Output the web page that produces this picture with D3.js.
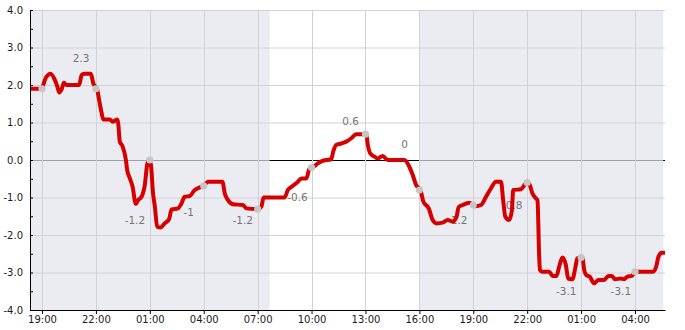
<!DOCTYPE html>
<html>
<head>
<meta charset="utf-8">
<script src="https://cdn.jsdelivr.net/npm/d3@7"></script>
<style>
  body { margin: 0; background: #fff; }
  svg { display: block; font-family: "DejaVu Sans", sans-serif; }
</style>
</head>
<body>
<svg id="chart" width="685" height="330"></svg>
<script>
// hours after 19:00 on the first day
const hours = [-0.67, 0, 0.07, 0.22, 0.48, 0.72, 0.86, 0.96, 1.09, 1.22, 1.37, 2.07, 2.21, 2.39, 2.72, 2.85,
  3.07, 3.18, 3.32, 3.41, 3.78, 3.93, 4.18, 4.24, 4.33, 4.48, 4.67, 4.74, 4.89, 5.04, 5.22, 5.35, 5.54,
  5.72, 5.85, 5.96, 6.06, 6.18, 6.28, 6.41, 6.59, 6.83, 7.07, 7.21, 7.57, 7.76, 7.94, 8.22, 8.5, 8.78,
  9.0, 9.24, 10.04, 10.17, 10.35, 10.63, 11.18, 11.37, 12.02, 12.21, 12.33, 13.5, 13.68, 13.96, 14.24,
  14.43, 14.71, 14.89, 15.11, 15.35, 15.63, 16.09, 16.22, 16.37, 16.65, 16.93, 17.21, 17.48, 18.04,
  18.13, 18.26, 18.5, 18.68, 18.96, 19.24, 20.17, 20.44, 20.63, 20.82, 21.06, 21.22, 21.52, 21.74,
  21.96, 22.29, 22.57, 22.85, 23.07, 23.18, 23.41, 23.78, 24.11, 24.43, 24.71, 24.98, 25.26, 25.54,
  25.67, 25.78, 26.0, 26.15, 26.22, 26.65, 26.93, 27.07, 27.29, 27.44, 27.57, 27.67, 27.71, 27.82,
  28.22, 28.41, 28.63, 28.78, 28.96, 29.15, 29.28, 29.52, 29.67, 29.79, 30.07, 30.17, 30.29, 30.48,
  30.72, 30.96, 31.28, 31.52, 31.71, 31.89, 32.21, 32.39, 32.57, 32.82, 33.07, 34.0, 34.18, 34.29,
  34.48, 34.67];
const values = [1.9, 1.9, 2.0, 2.2, 2.3, 2.13, 1.95, 1.8, 1.88, 2.06, 2.0, 2.0, 2.27, 2.3, 2.3, 2.05,
  1.88, 1.6, 1.25, 1.08, 1.08, 1.02, 1.08, 0.98, 0.49, 0.37, 0.0, -0.27, -0.49, -0.71, -1.17, -1.07, -0.98,
  -0.67, -0.13, 0.0, -0.13, -0.89, -1.24, -1.78, -1.8, -1.69, -1.58, -1.32, -1.29, -1.16, -0.98, -0.96, -0.8, -0.73,
  -0.69, -0.58, -0.58, -0.89, -1.07, -1.18, -1.2, -1.29, -1.31, -1.24, -1.0, -1.0, -0.8, -0.69, -0.58,
  -0.49, -0.49, -0.22, -0.18, -0.09, -0.02, 0.02, 0.25, 0.4, 0.44, 0.49, 0.58, 0.69, 0.69,
  0.4, 0.18, 0.09, 0.04, 0.11, 0.0, 0.0, -0.18, -0.4, -0.67, -0.8, -1.11, -1.29, -1.6,
  -1.69, -1.67, -1.6, -1.64, -1.51, -1.26, -1.2, -1.14, -1.23, -1.2, -0.98, -0.76, -0.58, -0.58,
  -1.11, -1.51, -1.6, -1.33, -0.8, -0.78, -0.62, -0.6, -0.89, -1.0, -1.07, -2.62, -2.93, -2.98,
  -2.98, -3.09, -3.09, -2.84, -2.6, -2.8, -3.16, -3.18, -2.89, -2.62, -2.6, -2.93, -3.07, -3.11,
  -3.29, -3.2, -3.2, -3.09, -3.09, -3.18, -3.16, -3.18, -3.11, -3.09, -2.98, -2.98, -2.84, -2.6,
  -2.47, -2.47];

const markerHours = [0, 3, 6, 9, 12, 15, 18, 21, 24, 27, 30, 33];
const markerValues = [1.9, 1.9, 0.0, -0.69, -1.31, -0.2, 0.69, -0.8, -1.2, -0.6, -2.6, -2.98];

const labelHours = [2.17, 5.17, 8.17, 11.17, 14.22, 17.17, 20.17, 23.11, 26.17, 29.17, 32.21];
const labelLevels = [2.72, -1.6, -1.39, -1.6, -0.99, 1.04, 0.43, -1.6, -1.2, -3.49, -3.49];
const labelTexts = ["2.3", "-1.2", "-1", "-1.2", "-0.6", "0.6", "0", "-1.2", "-0.8", "-3.1", "-3.1"];

const shadeFrom = [-0.67, 21];
const shadeTo = [12.67, 34.57];

const tickHours = [0, 3, 6, 9, 12, 15, 18, 21, 24, 27, 30, 33];
const yTicks = [-4, -3, -2, -1, 0, 1, 2, 3, 4];
const yMinor = [-3.5, -2.5, -1.5, -0.5, 0.5, 1.5, 2.5, 3.5];

var base = new Date(2024, 0, 1, 19, 0);
function toDate(h) {
  return new Date(base.getTime() + h * 3600 * 1000);
}

var svg = d3.select("#chart");
var margin = { top: 10, right: 20, bottom: 20, left: 30 };
var width = +svg.attr("width") - margin.left - margin.right;
var height = +svg.attr("height") - margin.top - margin.bottom;

var g = svg.append("g").attr("transform", `translate(${margin.left},${margin.top})`);

var x = d3.scaleTime().domain([toDate(-0.667), toDate(34.667)]).range([0, width]);
var y = d3.scaleLinear().domain([-4, 4]).range([height, 0]);

// zero line sits under the shading, so it turns grey there
g.append("line")
  .attr("x1", 0).attr("x2", width)
  .attr("y1", y(0) + 0.5).attr("y2", y(0) + 0.5)
  .attr("stroke", "#000")
  .attr("stroke-width", 1);

shadeFrom.forEach((h, i) => {
  g.append("rect")
    .attr("x", x(toDate(h)))
    .attr("y", 0)
    .attr("width", x(toDate(shadeTo[i])) - x(toDate(h)))
    .attr("height", height)
    .attr("fill", "rgb(226,226,236)")
    .attr("fill-opacity", 0.7);
});

// grid
g.selectAll(".hgrid")
  .data(yTicks.filter(d => d !== 0))
  .enter().append("line")
  .attr("x1", 0).attr("x2", width)
  .attr("y1", d => y(d) + 0.5).attr("y2", d => y(d) + 0.5)
  .attr("stroke", "#d2d2d6");

g.selectAll(".vgrid")
  .data(tickHours)
  .enter().append("line")
  .attr("x1", d => Math.round(x(toDate(d))) + 0.5).attr("x2", d => Math.round(x(toDate(d))) + 0.5)
  .attr("y1", 0).attr("y2", height)
  .attr("stroke", "#d2d2d6");

// value labels go under the line
g.selectAll(".lbl")
  .data(labelTexts)
  .enter().append("text")
  .attr("x", (d, i) => x(toDate(labelHours[i])))
  .attr("y", (d, i) => y(labelLevels[i]))
  .attr("dy", "0.35em")
  .attr("text-anchor", "middle")
  .attr("fill", "#747474")
  .style("font-size", "10.5px")
  .text(d => d);

var line = d3.line()
  .curve(d3.curveMonotoneX)
  .x((d, i) => x(toDate(hours[i])))
  .y(d => y(d));

g.append("path")
  .datum(values)
  .attr("fill", "none")
  .attr("stroke", "#d60000")
  .attr("stroke-width", 4)
  .attr("stroke-linejoin", "round")
  .attr("d", line);

g.selectAll(".marker")
  .data(markerValues)
  .enter().append("circle")
  .attr("cx", (d, i) => x(toDate(markerHours[i])))
  .attr("cy", d => y(d))
  .attr("r", 3.6)
  .attr("fill", "#c6c6c6");

// axes
var xAxis = g.append("g")
  .attr("transform", `translate(0,${height})`)
  .call(d3.axisBottom(x)
    .tickValues(tickHours.map(toDate))
    .tickFormat(d3.timeFormat("%H:%M"))
    .tickSize(4)
    .tickSizeOuter(0)
    .tickPadding(2));

var yAxis = g.append("g")
  .call(d3.axisLeft(y)
    .tickValues(yTicks)
    .tickFormat(d => d.toFixed(1))
    .tickSize(-3)
    .tickSizeOuter(0)
    .tickPadding(7));

g.append("g")
  .call(d3.axisLeft(y).tickValues(yMinor).tickFormat("").tickSize(-3).tickSizeOuter(0))
  .select(".domain").remove();

[xAxis, yAxis].forEach(a => {
  a.selectAll("text")
    .style("font-size", "10px")
    .style("font-family", "'DejaVu Sans', sans-serif")
    .attr("fill", "#1a1a1a");
});
</script>
</body>
</html>
